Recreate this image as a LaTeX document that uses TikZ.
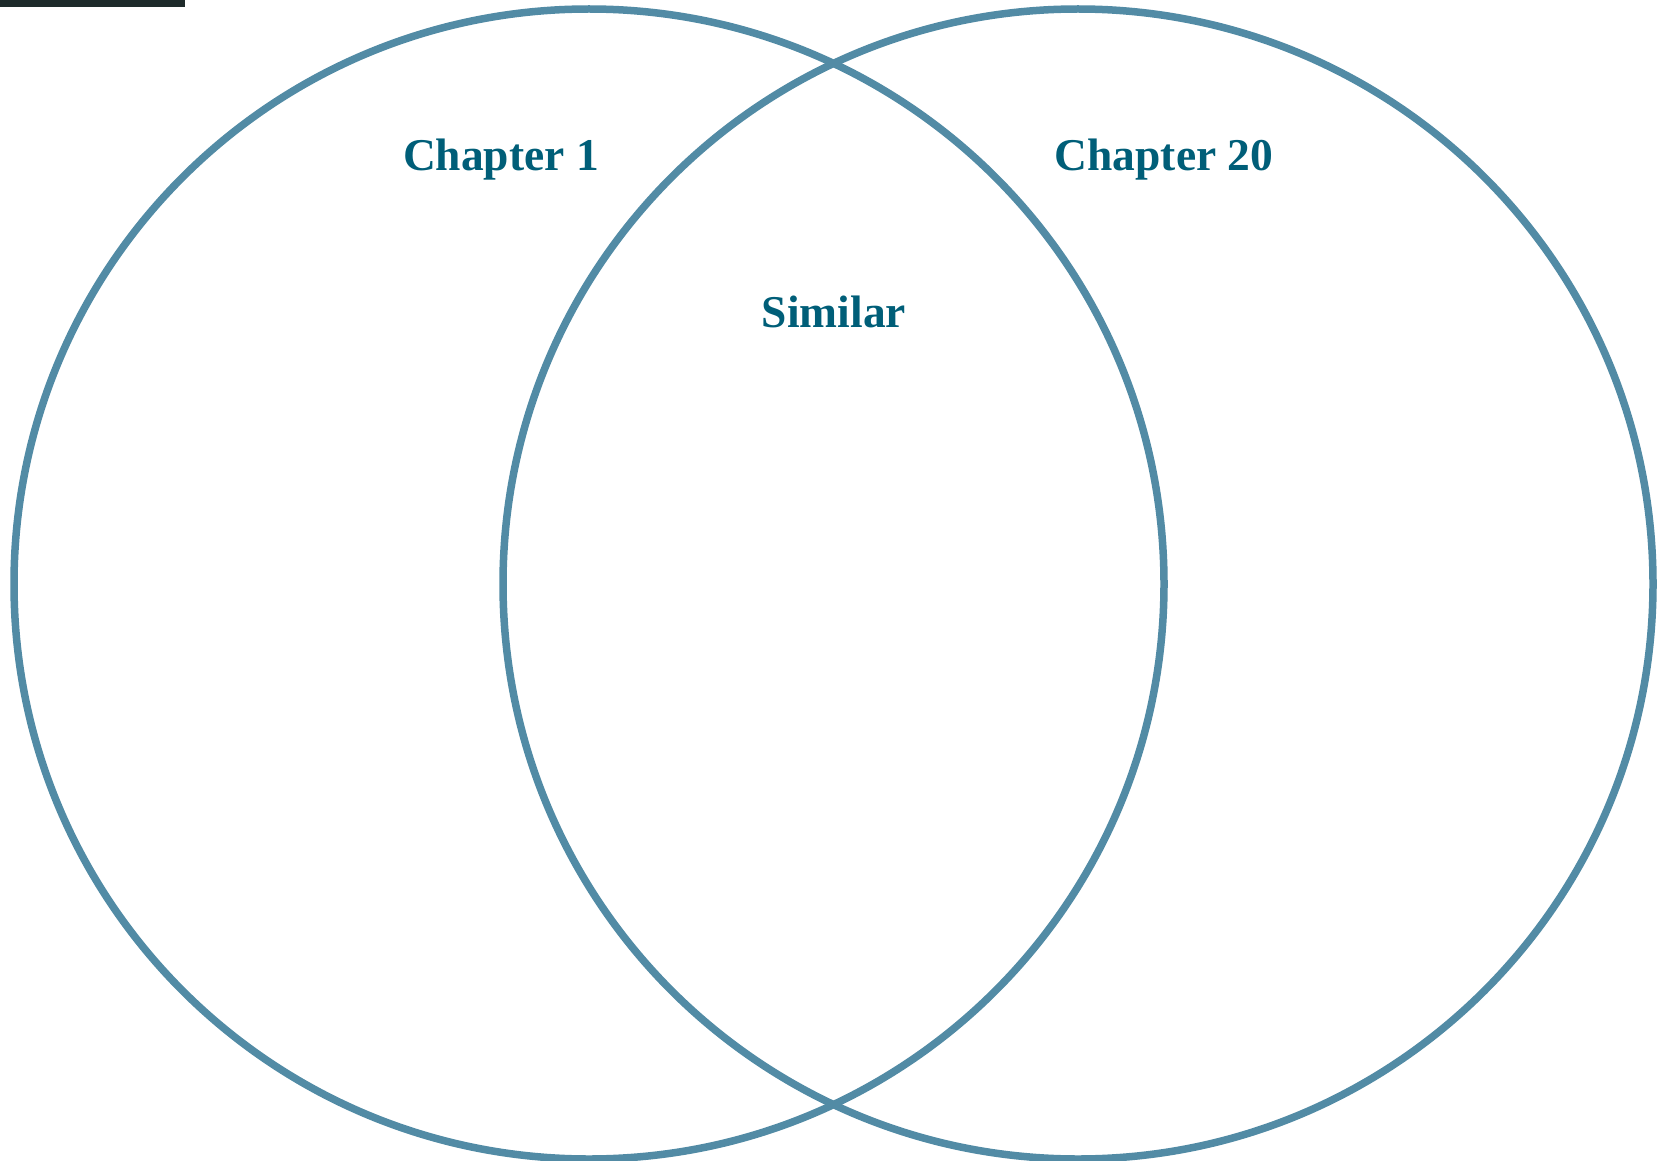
\documentclass[tikz,border=0pt]{standalone}
\usepackage{fontspec}
\setmainfont{Liberation Serif}
\usetikzlibrary{positioning}
\definecolor{ringblue}{RGB}{82,139,165}
\definecolor{labelteal}{RGB}{0,94,120}
\definecolor{topbar}{RGB}{30,43,43}

\begin{document}
\begin{tikzpicture}[x=1pt, y=-1pt,
      ring/.style={draw=ringblue, line width=7.5pt},
      heading/.style={font=\bfseries\fontsize{45.5}{52}\selectfont, text=labelteal,
                      anchor=base, inner sep=0pt}]
    \useasboundingbox (0,0) rectangle (1660,1161);
    \fill[topbar] (0,0) rectangle (185,7);
    \coordinate (left) at (589,584);
    \coordinate (right) at (1078,584);
    \draw[ring] (left) circle[radius=575];
    \draw[ring] (right) circle[radius=575];
    \node[heading] (ch1) at (501,171) {Chapter 1};
    \node[heading] (ch20) at (1164,171) {Chapter 20};
    \node[heading] (sim) at (834,327) {Similar};
  \end{tikzpicture}
\end{document}
